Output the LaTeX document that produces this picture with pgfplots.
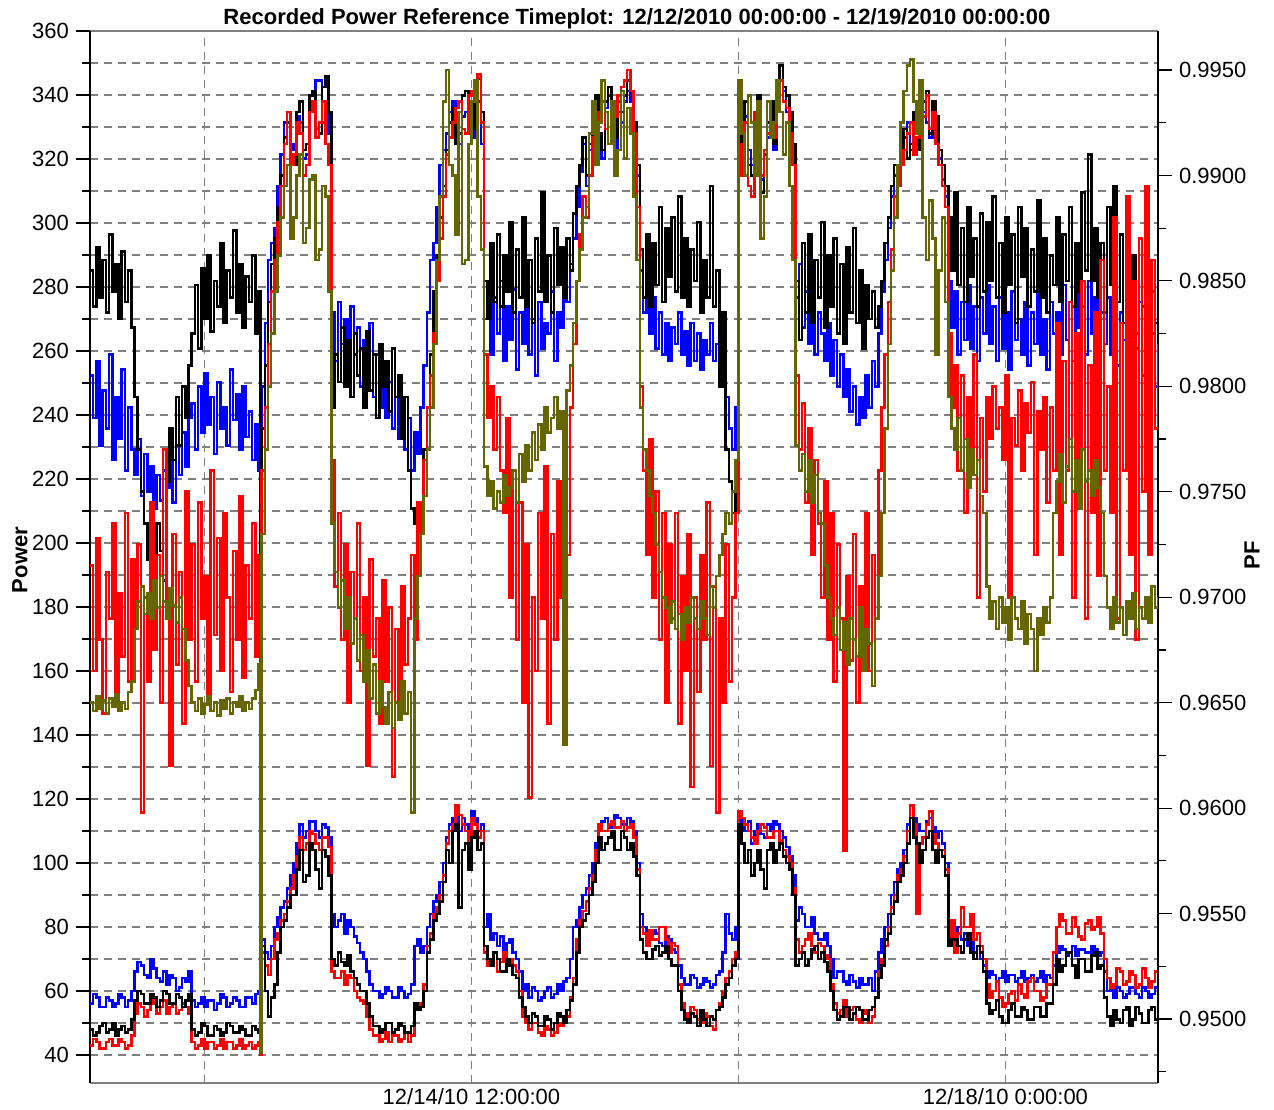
\documentclass[border=0pt]{standalone}
\usepackage{fontspec}
\setmainfont{Liberation Sans}
\usepackage{pgfplots}
\pgfplotsset{compat=1.18}
\usepackage{pgfplotstable}
\definecolor{olv}{RGB}{102,102,0}
\definecolor{pblue}{RGB}{0,0,255}
\definecolor{pred}{RGB}{255,0,0}
\definecolor{gridc}{RGB}{128,128,128}

% Power (lower traces), half-hourly
\pgfplotstableread{
h pb pr pk
0 56 43 48
0.5 59 45 46
1 58 44 47
1.5 55 42 49
2 55 42 50
2.5 58 44 47
3 57 45 48
3.5 55 43 50
4 56 43 46
4.5 59 45 48
5 58 44 49
5.5 55 42 47
6 57 43 48
6.5 60 46 51
7 66 53 57
7.5 69 56 60
8 68 55 59
8.5 65 52 56
9 64 54 56
9.5 70 57 59
10 67 56 58
10.5 64 53 55
11 63 55 57
11.5 66 57 60
12 62 53 59
12.5 65 55 56
13 64 56 56
13.5 60 53 59
14 61 54 58
14.5 64 56 55
15 63 55 57
15.5 66 53 59
16 57 44 48
16.5 55 42 46
17 56 43 47
17.5 58 45 50
18 55 42 49
18.5 57 44 46
19 57 44 46
19.5 54 42 49
20 56 43 48
20.5 59 45 46
21 58 42 47
21.5 55 44 50
22 56 44 49
22.5 58 42 47
23 57 43 47
23.5 55 45 49
24 55 42 48
24.5 58 43 46
25 58 44 46
25.5 56 42 49
26 59 43 48
26.5 60 44 47
27 76 72 74
27.5 72 68 60
28 70 65 52
28.5 74 70 58
29 80 76 62
29.5 83 78 72
30 86 82 80
30.5 88 84 82
31 92 88 86
31.5 96 92 90
32 100 96 90
32.5 106 102 98
33 112 108 104
33.5 108 104 94
34 110 106 96
34.5 113 110 106
35 113 109 104
35.5 110 106 98
36 108 104 92
36.5 112 108 104
37 111 108 102
37.5 108 105 96
38 84 66 70
38.5 80 64 68
39 82 64 72
39.5 84 66 69
40 78 62 68
40.5 82 65 71
41 80 64 66
41.5 77 60 64
42 75 58 62
42.5 72 57 60
43 70 56 60
43.5 66 52 56
44 62 48 52
44.5 60 46 49
45 60 46 49
45.5 58 44 47
46 59 45 48
46.5 61 47 50
47 60 44 50
47.5 58 46 47
48 58 46 48
48.5 61 44 50
49 60 45 49
49.5 58 47 47
50 59 44 47
50.5 62 46 49
51 74 54 56
51.5 76 55 54
52 72 56 55
52.5 74 62 60
53 80 74 72
53.5 84 78 76
54 88 84 82
54.5 90 86 84
55 94 90 88
55.5 100 96 94
56 108 106 104
56.5 112 110 100
57 114 112 110
57.5 116 118 112
58 110 115 86
58.5 114 112 104
59 112 110 106
59.5 108 106 98
60 116 114 108
60.5 114 112 110
61 110 108 104
61.5 112 110 106
62 80 72 74
62.5 84 68 70
63 76 70 68
63.5 78 72 72
64 74 66 70
64.5 77 69 66
65 72 72 66
65.5 75 70 70
66 76 70 68
66.5 72 68 65
67 70 66 64
67.5 66 60 58
68 60 52 55
68.5 62 50 52
69 58 48 50
69.5 61 50 53
70 60 50 52
70.5 57 47 49
71 58 46 49
71.5 60 49 52
72 61 48 51
72.5 58 46 48
73 59 47 50
73.5 62 50 53
74 60 49 52
74.5 63 51 50
75 64 52 54
75.5 70 58 57
76 80 64 62
76.5 82 76 72
77 86 82 80
77.5 90 85 82
78 92 88 84
78.5 96 92 90
79 100 96 94
79.5 106 104 100
80 110 112 108
80.5 113 110 104
81 114 110 106
81.5 111 112 108
82 112 113 110
82.5 115 111 104
83 114 111 104
83.5 112 113 110
84 112 110 108
84.5 114 111 104
85 113 112 106
85.5 110 108 102
86 100 98 96
86.5 84 80 76
87 80 78 72
87.5 78 74 70
88 76 79 70
88.5 79 76 73
89 78 76 74
89.5 75 80 71
90 74 80 72
90.5 77 76 74
91 76 72 70
91.5 73 75 68
92 72 74 68
92.5 68 62 60
93 64 56 54
93.5 62 53 51
94 62 52 50
94.5 65 55 53
95 64 54 52
95.5 61 51 49
96 62 50 54
96.5 64 53 51
97 63 52 49
97.5 61 49 52
98 62 48 51
98.5 65 54 54
99 66 56 55
99.5 72 60 58
100 84 64 62
100.5 78 66 64
101 76 70 68
101.5 80 72 70
102 114 116 112
102.5 112 114 106
103 110 112 100
103.5 113 110 104
104 106 108 96
104.5 110 106 100
105 112 110 104
105.5 109 112 98
106 108 111 92
106.5 112 108 104
107 110 108 106
107.5 113 110 100
108 112 110 104
108.5 110 107 106
109 108 104 102
109.5 105 102 100
110 102 100 98
110.5 96 92 90
111 82 76 68
111.5 86 72 70
112 84 74 72
112.5 80 76 68
113 80 78 70
113.5 83 74 73
114 78 72 74
114.5 76 75 70
115 76 74 72
115.5 78 71 69
116 74 70 66
116.5 70 62 60
117 64 56 54
117.5 66 53 51
118 66 54 52
118.5 63 57 55
119 62 52 55
119.5 65 54 51
120 63 55 53
120.5 61 51 55
121 64 50 54
121.5 62 53 51
122 62 54 51
122.5 64 50 54
123 60 52 55
123.5 66 58 58
124 72 66 64
124.5 76 70 68
125 80 74 76
125.5 84 80 78
126 90 86 84
126.5 94 90 88
127 98 96 94
127.5 100 98 96
128 104 102 100
128.5 112 110 106
129 118 118 114
129.5 114 112 108
130 112 84 106
130.5 110 106 100
131 110 108 104
131.5 113 112 108
132 114 116 110
132.5 111 109 104
133 108 106 100
133.5 110 104 104
134 106 104 102
134.5 100 98 96
135 80 76 74
135.5 78 82 76
136 78 72 76
136.5 80 78 74
137 76 86 72
137.5 78 80 76
138 74 80 78
138.5 76 84 72
139 72 76 70
139.5 74 78 74
140 70 74 72
140.5 68 70 66
141 64 62 56
141.5 66 58 53
142 65 60 54
142.5 63 63 57
143 64 58 52
143.5 66 55 50
144 63 56 50
144.5 65 59 54
145 65 60 56
145.5 63 57 52
146 64 62 52
146.5 66 59 55
147 63 58 54
147.5 64 63 51
148 65 64 51
148.5 63 60 55
149 64 60 55
149.5 66 57 52
150 63 58 52
150.5 65 62 56
151 64 62 56
151.5 68 72 62
152 72 80 70
152.5 74 84 66
153 73 82 68
153.5 71 78 72
154 72 78 72
154.5 74 83 68
155 71 80 64
155.5 73 77 70
156 73 76 70
156.5 72 81 66
157 72 82 66
157.5 74 79 71
158 73 80 72
158.5 71 83 67
159 72 78 68
159.5 66 70 58
160 60 64 52
160.5 62 61 49
161 58 62 54
161.5 61 67 51
162 60 66 50
162.5 58 62 54
163 59 63 55
163.5 61 66 49
164 61 65 51
164.5 59 61 55
165 58 62 53
165.5 61 67 50
166 60 64 50
166.5 58 61 54
167 59 63 55
167.5 61 66 51
168 60 62 52
}\pw

% PF (upper traces), half-hourly
\pgfplotstableread{
t fb fr fk fo
0 0.9805 0.9715 0.9855 0.9650
0.5 0.9785 0.9665 0.9838 0.9646
1 0.9812 0.9728 0.9866 0.9653
1.5 0.9772 0.9680 0.9842 0.9647
2 0.9798 0.9645 0.9860 0.9651
2.5 0.9780 0.9712 0.9835 0.9645
3 0.9815 0.9690 0.9872 0.9652
3.5 0.9765 0.9735 0.9845 0.9648
4 0.9795 0.9655 0.9858 0.9654
4.5 0.9775 0.9702 0.9832 0.9646
5 0.9808 0.9672 0.9864 0.9650
5.5 0.9760 0.9740 0.9840 0.9647
6 0.9790 0.9660 0.9855 0.9655
6.5 0.9770 0.9718 0.9828 0.9660
7 0.9758 0.9685 0.9795 0.9685
7.5 0.9775 0.9725 0.9770 0.9698
8 0.9748 0.9598 0.9750 0.9705
8.5 0.9768 0.9700 0.9735 0.9692
9 0.9750 0.9660 0.9718 0.9702
9.5 0.9762 0.9745 0.9740 0.9690
10 0.9742 0.9675 0.9712 0.9708
10.5 0.9758 0.9720 0.9735 0.9695
11 0.9746 0.9650 0.9722 0.9710
11.5 0.9760 0.9770 0.9708 0.9698
12 0.9752 0.9690 0.9755 0.9690
12.5 0.9768 0.9620 0.9780 0.9704
13 0.9745 0.9730 0.9765 0.9696
13.5 0.9772 0.9668 0.9795 0.9688
14 0.9758 0.9712 0.9772 0.9700
14.5 0.9778 0.9640 0.9800 0.9685
15 0.9762 0.9750 0.9785 0.9670
15.5 0.9785 0.9680 0.9810 0.9658
16 0.9792 0.9725 0.9825 0.9650
16.5 0.9770 0.9660 0.9848 0.9646
17 0.9800 0.9745 0.9818 0.9652
17.5 0.9778 0.9690 0.9856 0.9645
18 0.9806 0.9710 0.9832 0.9649
18.5 0.9782 0.9650 0.9862 0.9653
19 0.9795 0.9760 0.9826 0.9646
19.5 0.9768 0.9682 0.9850 0.9650
20 0.9802 0.9728 0.9838 0.9644
20.5 0.9780 0.9665 0.9868 0.9651
21 0.9790 0.9740 0.9830 0.9647
21.5 0.9772 0.9700 0.9855 0.9652
22 0.9808 0.9655 0.9842 0.9645
22.5 0.9784 0.9722 0.9874 0.9650
23 0.9796 0.9680 0.9835 0.9648
23.5 0.9770 0.9748 0.9858 0.9653
24 0.9800 0.9662 0.9828 0.9646
24.5 0.9776 0.9715 0.9852 0.9650
25 0.9788 0.9690 0.9840 0.9647
25.5 0.9765 0.9735 0.9862 0.9652
26 0.9782 0.9672 0.9825 0.9656
26.5 0.9760 0.9720 0.9845 0.9668
26.8 0.9700 0.9483 0.9611 0.9484
27 0.9800 0.9760 0.9780 0.9730
27.5 0.9830 0.9790 0.9810 0.9770
28 0.9860 0.9820 0.9840 0.9800
28.5 0.9868 0.9845 0.9858 0.9825
29 0.9875 0.9860 0.9870 0.9845
29.5 0.9895 0.9878 0.9885 0.9862
30 0.9910 0.9895 0.9900 0.9880
30.5 0.9925 0.9915 0.9918 0.9895
31 0.9930 0.9930 0.9925 0.9905
31.5 0.9912 0.9905 0.9908 0.9870
32 0.9915 0.9910 0.9905 0.9880
32.5 0.9928 0.9925 0.9930 0.9900
33 0.9925 0.9920 0.9935 0.9910
33.5 0.9908 0.9900 0.9912 0.9868
34 0.9910 0.9905 0.9915 0.9875
34.5 0.9932 0.9930 0.9938 0.9898
35 0.9935 0.9935 0.9940 0.9900
35.5 0.9945 0.9918 0.9922 0.9860
36 0.9945 0.9925 0.9920 0.9865
36.5 0.9925 0.9935 0.9942 0.9895
37 0.9930 0.9915 0.9947 0.9890
37.5 0.9920 0.9905 0.9930 0.9845
38 0.9835 0.9765 0.9790 0.9735
38.5 0.9812 0.9705 0.9815 0.9712
39 0.9840 0.9740 0.9802 0.9695
39.5 0.9820 0.9680 0.9828 0.9708
40 0.9832 0.9725 0.9800 0.9685
40.5 0.9808 0.9650 0.9822 0.9700
41 0.9838 0.9712 0.9795 0.9678
41.5 0.9815 0.9690 0.9825 0.9690
42 0.9828 0.9735 0.9805 0.9670
42.5 0.9800 0.9665 0.9818 0.9682
43 0.9822 0.9700 0.9790 0.9660
43.5 0.9810 0.9620 0.9826 0.9675
44 0.9830 0.9718 0.9798 0.9652
44.5 0.9795 0.9672 0.9815 0.9668
45 0.9815 0.9690 0.9785 0.9645
45.5 0.9790 0.9640 0.9820 0.9660
46 0.9808 0.9708 0.9800 0.9648
46.5 0.9785 0.9660 0.9812 0.9640
47 0.9802 0.9695 0.9788 0.9655
47.5 0.9780 0.9615 0.9818 0.9638
48 0.9795 0.9685 0.9795 0.9650
48.5 0.9775 0.9650 0.9805 0.9642
49 0.9790 0.9705 0.9775 0.9660
49.5 0.9770 0.9668 0.9795 0.9645
50 0.9785 0.9690 0.9760 0.9655
50.5 0.9760 0.9720 0.9742 0.9598
51 0.9778 0.9680 0.9735 0.9690
51.5 0.9768 0.9745 0.9720 0.9710
52 0.9790 0.9730 0.9745 0.9730
52.5 0.9810 0.9765 0.9770 0.9748
53 0.9835 0.9790 0.9790 0.9770
53.5 0.9860 0.9805 0.9815 0.9790
54 0.9868 0.9825 0.9845 0.9820
54.5 0.9885 0.9850 0.9862 0.9860
55 0.9905 0.9870 0.9880 0.9890
55.5 0.9912 0.9890 0.9895 0.9935
56 0.9920 0.9910 0.9912 0.9950
56.5 0.9930 0.9918 0.9925 0.9905
57 0.9935 0.9925 0.9932 0.9900
57.5 0.9918 0.9932 0.9915 0.9872
58 0.9915 0.9935 0.9920 0.9930
58.5 0.9928 0.9922 0.9938 0.9858
59 0.9930 0.9920 0.9940 0.9860
59.5 0.9920 0.9938 0.9925 0.9915
60 0.9918 0.9940 0.9922 0.9935
60.5 0.9932 0.9945 0.9942 0.9945
61 0.9935 0.9948 0.9946 0.9890
61.5 0.9915 0.9925 0.9930 0.9865
62 0.9832 0.9815 0.9850 0.9762
62.5 0.9848 0.9785 0.9832 0.9748
63 0.9815 0.9800 0.9868 0.9755
63.5 0.9842 0.9770 0.9840 0.9742
64 0.9825 0.9795 0.9872 0.9750
64.5 0.9850 0.9760 0.9838 0.9745
65 0.9812 0.9740 0.9862 0.9758
65.5 0.9838 0.9785 0.9845 0.9748
66 0.9822 0.9700 0.9878 0.9752
66.5 0.9846 0.9760 0.9835 0.9760
67 0.9808 0.9680 0.9865 0.9745
67.5 0.9835 0.9745 0.9842 0.9768
68 0.9820 0.9650 0.9880 0.9755
68.5 0.9842 0.9725 0.9838 0.9772
69 0.9815 0.9605 0.9860 0.9760
69.5 0.9832 0.9700 0.9830 0.9778
70 0.9805 0.9665 0.9870 0.9765
70.5 0.9840 0.9740 0.9845 0.9782
71 0.9818 0.9690 0.9892 0.9770
71.5 0.9830 0.9762 0.9840 0.9790
72 0.9825 0.9640 0.9862 0.9778
72.5 0.9845 0.9730 0.9835 0.9785
73 0.9812 0.9680 0.9875 0.9795
73.5 0.9835 0.9755 0.9848 0.9780
74 0.9828 0.9700 0.9866 0.9788
74.5 0.9850 0.9775 0.9842 0.9630
75 0.9840 0.9720 0.9870 0.9798
75.5 0.9858 0.9790 0.9855 0.9810
76 0.9870 0.9820 0.9882 0.9830
76.5 0.9885 0.9850 0.9895 0.9850
77 0.9902 0.9872 0.9905 0.9865
77.5 0.9915 0.9890 0.9918 0.9880
78 0.9895 0.9880 0.9900 0.9885
78.5 0.9912 0.9900 0.9915 0.9920
79 0.9928 0.9918 0.9925 0.9935
79.5 0.9930 0.9925 0.9938 0.9905
80 0.9915 0.9930 0.9920 0.9925
80.5 0.9908 0.9935 0.9912 0.9945
81 0.9932 0.9922 0.9935 0.9930
81.5 0.9938 0.9915 0.9942 0.9915
82 0.9920 0.9930 0.9925 0.9935
82.5 0.9912 0.9928 0.9918 0.9900
83 0.9930 0.9938 0.9935 0.9912
83.5 0.9925 0.9942 0.9930 0.9940
84 0.9935 0.9945 0.9938 0.9908
84.5 0.9940 0.9950 0.9945 0.9932
85 0.9935 0.9940 0.9940 0.9920
85.5 0.9915 0.9920 0.9925 0.9890
86 0.9900 0.9885 0.9905 0.9860
86.5 0.9855 0.9800 0.9865 0.9790
87 0.9835 0.9760 0.9842 0.9770
87.5 0.9848 0.9720 0.9872 0.9760
88 0.9825 0.9775 0.9838 0.9748
88.5 0.9842 0.9700 0.9868 0.9740
89 0.9818 0.9750 0.9848 0.9725
89.5 0.9835 0.9680 0.9885 0.9712
90 0.9815 0.9740 0.9840 0.9700
90.5 0.9830 0.9650 0.9875 0.9695
91 0.9812 0.9725 0.9852 0.9688
91.5 0.9828 0.9690 0.9880 0.9698
92 0.9820 0.9740 0.9845 0.9685
92.5 0.9835 0.9640 0.9890 0.9692
93 0.9815 0.9710 0.9842 0.9680
93.5 0.9826 0.9665 0.9870 0.9695
94 0.9810 0.9730 0.9838 0.9688
94.5 0.9830 0.9610 0.9865 0.9700
95 0.9812 0.9700 0.9850 0.9690
95.5 0.9825 0.9655 0.9878 0.9685
96 0.9808 0.9720 0.9835 0.9698
96.5 0.9822 0.9680 0.9860 0.9690
97 0.9815 0.9745 0.9842 0.9682
97.5 0.9830 0.9620 0.9895 0.9705
98 0.9812 0.9705 0.9838 0.9695
98.5 0.9820 0.9598 0.9855 0.9710
99 0.9805 0.9690 0.9800 0.9720
99.5 0.9818 0.9650 0.9835 0.9730
100 0.9795 0.9725 0.9770 0.9740
100.5 0.9780 0.9660 0.9755 0.9735
101 0.9770 0.9700 0.9740 0.9750
101.5 0.9790 0.9740 0.9760 0.9765
102 0.9920 0.9915 0.9925 0.9945
102.5 0.9905 0.9900 0.9910 0.9920
103 0.9928 0.9925 0.9935 0.9900
103.5 0.9912 0.9895 0.9905 0.9938
104 0.9905 0.9890 0.9900 0.9925
104.5 0.9922 0.9930 0.9930 0.9900
105 0.9930 0.9935 0.9938 0.9935
105.5 0.9898 0.9900 0.9892 0.9870
106 0.9910 0.9912 0.9910 0.9890
106.5 0.9918 0.9920 0.9925 0.9935
107 0.9928 0.9925 0.9935 0.9918
107.5 0.9912 0.9918 0.9915 0.9925
108 0.9935 0.9940 0.9945 0.9945
108.5 0.9945 0.9945 0.9952 0.9930
109 0.9940 0.9935 0.9942 0.9910
109.5 0.9930 0.9932 0.9938 0.9925
110 0.9925 0.9920 0.9930 0.9895
110.5 0.9910 0.9905 0.9915 0.9860
111 0.9842 0.9805 0.9850 0.9772
111.5 0.9858 0.9770 0.9822 0.9760
112 0.9828 0.9792 0.9868 0.9768
112.5 0.9845 0.9745 0.9835 0.9750
113 0.9820 0.9780 0.9872 0.9765
113.5 0.9840 0.9720 0.9830 0.9745
114 0.9815 0.9765 0.9860 0.9758
114.5 0.9835 0.9735 0.9842 0.9740
115 0.9825 0.9700 0.9878 0.9735
115.5 0.9812 0.9755 0.9828 0.9715
116 0.9830 0.9680 0.9862 0.9700
116.5 0.9805 0.9740 0.9838 0.9690
117 0.9822 0.9660 0.9870 0.9682
117.5 0.9800 0.9725 0.9825 0.9695
118 0.9815 0.9690 0.9858 0.9675
118.5 0.9795 0.9580 0.9820 0.9688
119 0.9808 0.9710 0.9866 0.9668
119.5 0.9788 0.9670 0.9835 0.9690
120 0.9800 0.9730 0.9875 0.9680
120.5 0.9782 0.9650 0.9830 0.9672
121 0.9795 0.9705 0.9855 0.9695
121.5 0.9785 0.9685 0.9818 0.9665
122 0.9805 0.9740 0.9848 0.9685
122.5 0.9790 0.9665 0.9832 0.9678
123 0.9812 0.9720 0.9845 0.9658
123.5 0.9800 0.9690 0.9828 0.9690
124 0.9825 0.9760 0.9838 0.9710
124.5 0.9845 0.9790 0.9850 0.9740
125 0.9860 0.9815 0.9868 0.9780
125.5 0.9875 0.9840 0.9880 0.9820
126 0.9890 0.9865 0.9895 0.9855
126.5 0.9900 0.9890 0.9905 0.9880
127 0.9900 0.9895 0.9905 0.9905
127.5 0.9910 0.9905 0.9912 0.9925
128 0.9918 0.9912 0.9922 0.9940
128.5 0.9925 0.9920 0.9908 0.9952
129 0.9912 0.9925 0.9915 0.9955
129.5 0.9928 0.9910 0.9930 0.9935
130 0.9920 0.9918 0.9925 0.9920
130.5 0.9915 0.9935 0.9912 0.9945
131 0.9930 0.9928 0.9935 0.9880
131.5 0.9925 0.9938 0.9940 0.9860
132 0.9918 0.9922 0.9920 0.9888
132.5 0.9930 0.9930 0.9935 0.9870
133 0.9920 0.9915 0.9928 0.9815
133.5 0.9908 0.9905 0.9912 0.9855
134 0.9898 0.9895 0.9905 0.9880
134.5 0.9890 0.9885 0.9895 0.9840
135 0.9850 0.9825 0.9880 0.9795
135.5 0.9828 0.9790 0.9855 0.9780
136 0.9845 0.9810 0.9892 0.9770
136.5 0.9815 0.9760 0.9848 0.9785
137 0.9840 0.9805 0.9875 0.9760
137.5 0.9822 0.9740 0.9840 0.9775
138 0.9848 0.9795 0.9885 0.9752
138.5 0.9818 0.9770 0.9852 0.9770
139 0.9838 0.9815 0.9870 0.9758
139.5 0.9812 0.9700 0.9838 0.9765
140 0.9842 0.9785 0.9882 0.9748
140.5 0.9825 0.9750 0.9845 0.9740
141 0.9848 0.9795 0.9878 0.9705
141.5 0.9820 0.9775 0.9850 0.9690
142 0.9838 0.9800 0.9890 0.9698
142.5 0.9812 0.9780 0.9842 0.9685
143 0.9842 0.9790 0.9868 0.9700
143.5 0.9818 0.9765 0.9835 0.9688
144 0.9835 0.9805 0.9880 0.9695
144.5 0.9808 0.9700 0.9848 0.9680
145 0.9845 0.9785 0.9872 0.9700
145.5 0.9822 0.9772 0.9830 0.9690
146 0.9832 0.9798 0.9885 0.9685
146.5 0.9815 0.9760 0.9852 0.9698
147 0.9840 0.9792 0.9875 0.9678
147.5 0.9810 0.9778 0.9838 0.9692
148 0.9835 0.9802 0.9865 0.9685
148.5 0.9820 0.9720 0.9845 0.9665
149 0.9845 0.9788 0.9888 0.9690
149.5 0.9815 0.9770 0.9842 0.9682
150 0.9832 0.9795 0.9870 0.9695
150.5 0.9808 0.9745 0.9835 0.9688
151 0.9840 0.9790 0.9862 0.9700
151.5 0.9825 0.9760 0.9848 0.9740
152 0.9835 0.9830 0.9880 0.9755
152.5 0.9815 0.9720 0.9840 0.9768
153 0.9848 0.9812 0.9872 0.9745
153.5 0.9822 0.9760 0.9850 0.9762
154 0.9840 0.9840 0.9885 0.9775
154.5 0.9812 0.9700 0.9838 0.9750
155 0.9845 0.9825 0.9868 0.9765
155.5 0.9828 0.9750 0.9845 0.9742
156 0.9838 0.9850 0.9892 0.9770
156.5 0.9815 0.9690 0.9855 0.9755
157 0.9850 0.9810 0.9910 0.9760
157.5 0.9825 0.9740 0.9850 0.9748
158 0.9842 0.9835 0.9875 0.9765
158.5 0.9818 0.9710 0.9842 0.9752
159 0.9835 0.9860 0.9868 0.9740
159.5 0.9820 0.9760 0.9835 0.9710
160 0.9842 0.9800 0.9885 0.9695
160.5 0.9815 0.9740 0.9848 0.9685
161 0.9838 0.9880 0.9895 0.9700
161.5 0.9810 0.9690 0.9840 0.9688
162 0.9835 0.9830 0.9872 0.9695
162.5 0.9822 0.9760 0.9830 0.9682
163 0.9845 0.9890 0.9880 0.9698
163.5 0.9808 0.9720 0.9845 0.9690
164 0.9832 0.9850 0.9862 0.9702
164.5 0.9818 0.9680 0.9825 0.9685
165 0.9840 0.9870 0.9870 0.9695
165.5 0.9805 0.9750 0.9838 0.9690
166 0.9830 0.9895 0.9858 0.9700
166.5 0.9815 0.9720 0.9800 0.9688
167 0.9825 0.9860 0.9845 0.9705
167.5 0.9800 0.9780 0.9830 0.9695
168 0.9818 0.9820 0.9850 0.9700
}\pf

\begin{document}
\begin{tikzpicture}
\useasboundingbox (-45pt,-13.25pt) rectangle (592pt,541.25pt);
\begin{axis}[
  at={(0pt,0pt)}, anchor=south west,
  scale only axis, width=534pt, height=525.75pt,
  xmin=0, xmax=168, ymin=31.4, ymax=360,
  separate axis lines,
  x axis line style={draw=gridc, line width=1pt},
  y axis line style={draw=black, line width=1pt},
  xtick={18,60,102,144},
  xticklabels={,12/14/10 12:00:00,,12/18/10 0:00:00},
  xtick style={draw=none},
  xticklabel style={yshift=7.5pt},
  xmajorgrids,
  ytick={40,60,...,360},
  minor ytick={50,70,...,350},
  ymajorgrids, yminorgrids,
  ytick pos=left,
  tick align=outside,
  major tick length=7pt, minor tick length=4pt,
  ytick style={black, line width=0.6pt},
  major grid style={gridc, line width=0.7pt, dash pattern=on 4pt off 3pt},
  minor grid style={gridc, line width=0.7pt, dash pattern=on 4pt off 3pt},
  tick label style={font=\fontsize{11}{13}\selectfont},
  /pgf/number format/assume math mode=true,
]
\addplot[const plot, pblue, line width=1.3pt] table[x=h, y=pb] {\pw};
\addplot[const plot, pred, line width=1.3pt] table[x=h, y=pr] {\pw};
\addplot[const plot, black, line width=1.3pt] table[x=h, y=pk] {\pw};
\end{axis}
\begin{axis}[
  at={(0pt,0pt)}, anchor=south west,
  scale only axis, width=534pt, height=525.75pt,
  xmin=0, xmax=168, ymin=0.946989, ymax=0.99685,
  axis x line=none, axis y line*=right,
  axis line style={draw=black, line width=1pt},
  ytick={0.95,0.955,0.96,0.965,0.97,0.975,0.98,0.985,0.99,0.995},
  minor ytick={0.9475,0.9525,0.9575,0.9625,0.9675,0.9725,0.9775,0.9825,0.9875,0.9925},
  tick align=outside,
  major tick length=7pt, minor tick length=4pt,
  ytick style={black, line width=0.6pt},
  tick label style={font=\fontsize{11}{13}\selectfont},
  yticklabel style={/pgf/number format/fixed, /pgf/number format/fixed zerofill, /pgf/number format/precision=4},
  /pgf/number format/assume math mode=true,
]
\addplot[const plot, pblue, line width=1.3pt] table[x=t, y=fb] {\pf};
\addplot[const plot, black, line width=1.3pt] table[x=t, y=fk] {\pf};
\addplot[const plot, pred, line width=1.3pt] table[x=t, y=fr] {\pf};
\addplot[const plot, olv, line width=1.3pt] table[x=t, y=fo] {\pf};
\end{axis}
\node[font=\bfseries\fontsize{11}{13}\selectfont, anchor=base] at (273.5pt,528.75pt) {Recorded Power Reference Timeplot: 12/12/2010 00:00:00 - 12/19/2010 00:00:00};
\node[rotate=90, font=\bfseries\fontsize{11}{13}\selectfont] at (-35pt,261.25pt) {Power};
\node[rotate=90, font=\bfseries\fontsize{11}{13}\selectfont] at (581pt,263.75pt) {PF};
\end{tikzpicture}
\end{document}
